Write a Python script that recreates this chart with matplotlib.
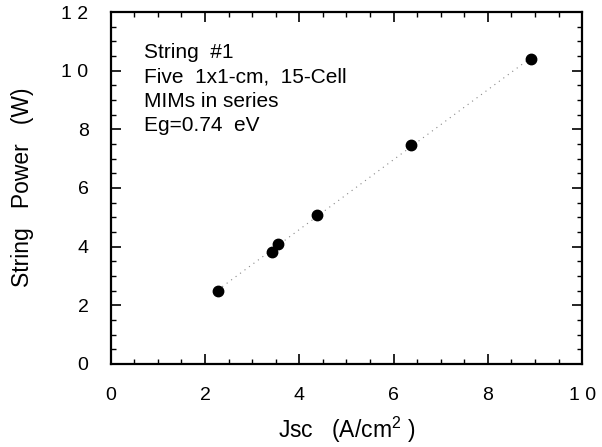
import matplotlib
matplotlib.use('Agg')
import matplotlib.pyplot as plt
import numpy as np

# data
jsc = [2.27, 3.42, 3.54, 4.37, 6.37, 8.92]
power = [2.49, 3.80, 4.10, 5.07, 7.45, 10.41]
x_ticks = [0, 2, 4, 6, 8, 10]
x_labels = ['0', '2', '4', '6', '8', '1 0']
y_ticks = [0, 2, 4, 6, 8, 10, 12]
y_labels = ['0', '2', '4', '6', '8', '1 0', '1 2']
notes = ['String  #1', 'Five  1x1-cm,  15-Cell', 'MIMs in series', 'Eg=0.74  eV']

plt.rcParams['font.family'] = ['Liberation Sans', 'DejaVu Sans']
plt.rcParams['mathtext.fontset'] = 'custom'
plt.rcParams['mathtext.rm'] = 'Liberation Sans'
plt.rcParams['mathtext.it'] = 'Liberation Sans'

fig = plt.figure(figsize=(6.02, 4.47), dpi=100)
ax = fig.add_axes([0.184, 0.186, 0.783, 0.787])

# linear fit drawn as a thin dotted line
slope, icpt = np.polyfit(jsc, power, 1)
xf = np.array([min(jsc), max(jsc)])
ax.plot(xf, slope * xf + icpt, linestyle=(0, (1, 4)), color='#888888', lw=0.8)
ax.plot(jsc, power, 'o', color='black', ms=7.5)

ax.set_xlim(0, 10)
ax.set_ylim(0, 12)
ax.set_xticks(x_ticks)
ax.set_xticklabels(x_labels)
ax.set_yticks(y_ticks)
ax.set_yticklabels(y_labels)
ax.set_xticks(np.arange(0, 10.01, 0.5), minor=True)
ax.set_yticks(np.arange(0, 12.01, 0.5), minor=True)
ax.tick_params(which='both', direction='in', top=True, right=True, labelsize=14)
ax.tick_params(which='major', length=7, width=1.2)
ax.tick_params(axis='x', which='major', pad=17)
ax.tick_params(axis='y', which='major', pad=16)
ax.tick_params(which='minor', length=3.5, width=1)
for s in ax.spines.values():
    s.set_linewidth(1.6)

fig.text(347 / 602, 1 - 430 / 447, 'Jsc   (A/cm$^{2}$ )', fontsize=16.5,
         ha='center', va='center')
fig.text(22 / 602, 1 - 187 / 447, 'String   Power   (W)', fontsize=16.5,
         rotation=90, ha='center', va='center')

for i, t in enumerate(notes):
    ax.text(0.07, 0.885 - i * 0.069, t, transform=ax.transAxes,
            fontsize=15, va='center', ha='left')

fig.savefig('out.png', dpi=100)
